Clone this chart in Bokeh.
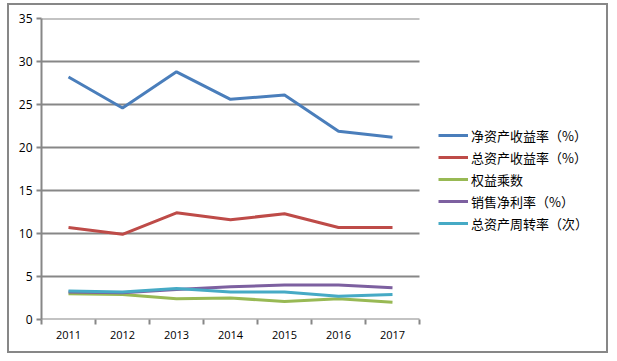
from bokeh.plotting import figure
from bokeh.models import Range1d, FixedTicker, Legend, LegendItem
from bokeh.embed import file_html
from bokeh.resources import INLINE

years = ["2011", "2012", "2013", "2014", "2015", "2016", "2017"]
roe = [28.2, 24.6, 28.8, 25.6, 26.1, 21.9, 21.2]
roa = [10.7, 9.9, 12.4, 11.6, 12.3, 10.7, 10.7]
equity_mult = [3.0, 2.9, 2.4, 2.5, 2.1, 2.4, 2.0]
net_margin = [3.2, 3.1, 3.5, 3.8, 4.0, 4.0, 3.7]
asset_turn = [3.3, 3.2, 3.6, 3.2, 3.2, 2.7, 2.9]

series_names = ["净资产收益率（%）", "总资产收益率（%）", "权益乘数", "销售净利率（%）", "总资产周转率（次）"]
series_vals = [roe, roa, equity_mult, net_margin, asset_turn]
colors = ["#4A7EBB", "#BE4B48", "#98B954", "#7D60A0", "#46AAC5"]
y_ticks = [0, 5, 10, 15, 20, 25, 30, 35]

GRAY = "#878787"
n = len(years)
W, H = 601, 350
frame_w = W - 32
unit = 54.0

p = figure(width=W, height=H, output_backend="svg", toolbar_location=None,
           x_range=Range1d(0, frame_w / unit), y_range=Range1d(0, 35),
           min_border_left=32, min_border_top=13, min_border_bottom=36, min_border_right=0,
           styles={"border": "2px solid " + GRAY, "margin-left": "7px", "margin-top": "3px"})
p.outline_line_color = None
p.background_fill_color = "white"

# horizontal gridlines over the category span only
p.segment(x0=[0] * len(y_ticks), x1=[n] * len(y_ticks), y0=y_ticks, y1=y_ticks,
          line_color=GRAY, line_width=2)

xs = [i + 0.5 for i in range(n)]

items = []
for name, vals, c in zip(series_names, series_vals, colors):
    r = p.line(xs, vals, line_color=c, line_width=3)
    items.append(LegendItem(label=name, renderers=[r]))

# x axis
p.xaxis.ticker = FixedTicker(ticks=xs, minor_ticks=list(range(n + 1)))
p.xaxis.major_label_overrides = {x: y for x, y in zip(xs, years)}
p.xaxis.major_tick_out = 0
p.xaxis.major_tick_in = 0
p.xaxis.minor_tick_out = 5
p.xaxis.minor_tick_in = 0
p.xaxis.minor_tick_line_color = GRAY
p.xaxis.minor_tick_line_width = 2
p.xaxis.axis_line_color = None
p.xaxis.major_label_text_font = "Open Sans"
p.xaxis.major_label_text_font_size = "11px"
p.xaxis.major_label_text_color = "black"
p.xaxis.major_label_standoff = 6

# y axis
p.yaxis.ticker = FixedTicker(ticks=y_ticks)
p.yaxis.minor_tick_line_color = None
p.yaxis.major_tick_out = 5
p.yaxis.major_tick_in = 0
p.yaxis.major_tick_line_color = GRAY
p.yaxis.major_tick_line_width = 2
p.yaxis.axis_line_color = GRAY
p.yaxis.axis_line_width = 2
p.yaxis.major_label_text_font = "Open Sans"
p.yaxis.major_label_text_font_size = "12px"
p.yaxis.major_label_text_color = "black"
p.yaxis.major_label_standoff = 4

p.xgrid.grid_line_color = None
p.ygrid.grid_line_color = None

legend = Legend(items=items, location=(397, 86), padding=0, margin=0,
                border_line_color=None, background_fill_alpha=0,
                glyph_width=30, glyph_height=20, label_height=20, spacing=2,
                label_standoff=3, label_text_font="Noto Sans CJK SC",
                label_text_font_size="13px", label_text_color="black")
p.add_layout(legend, "center")

open("out.html", "w").write(file_html(p, INLINE))
